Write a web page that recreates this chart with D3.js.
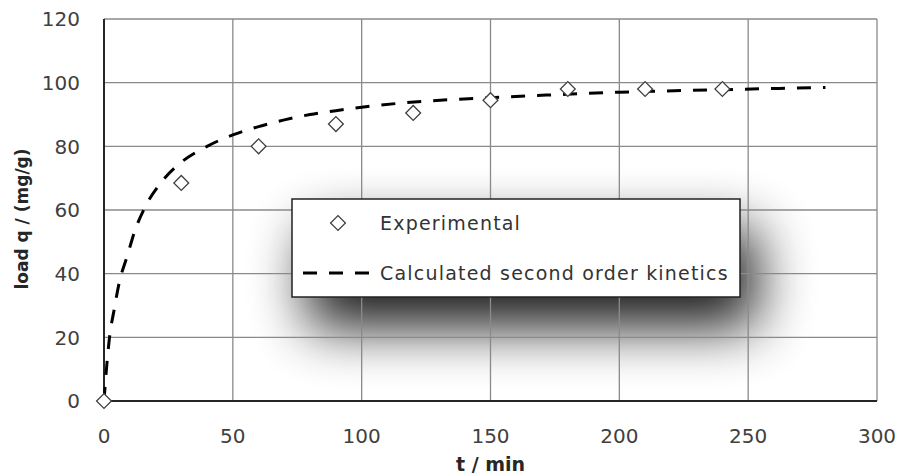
<!DOCTYPE html>
<html>
<head>
<meta charset="utf-8">
<script src="https://cdn.jsdelivr.net/npm/d3@7"></script>
<style>
  body { margin: 0; background: #fff; }
  svg { display: block; font-family: "DejaVu Sans", sans-serif; }
</style>
</head>
<body>
<div id="chart"></div>
<script>
// measured points (t in min, q in mg/g)
const expTime = [0, 30, 60, 90, 120, 150, 180, 210, 240];
const expLoad = [0, 68.5, 80, 87, 90.5, 94.5, 98, 98, 98];

// fitted second order curve
const calcTime = [0, 1, 2, 4, 6, 9, 12, 16, 22, 30, 40, 50, 60, 70, 80, 90, 100, 125, 150, 175, 200, 240, 280];
const calcLoad = [0, 10.5, 19, 29, 37.5, 45.5, 53.5, 61, 68.5, 75, 80, 83.6, 86.2, 88.3, 90, 91.2, 92.3, 94.2, 95.3, 96.2, 97, 97.8, 98.5];

const xTicks = [0, 50, 100, 150, 200, 250, 300];
const yTicks = [0, 20, 40, 60, 80, 100, 120];
const legendLabels = ["Experimental", "Calculated second order kinetics"];

const width = 901, height = 474;
const margin = { top: 19, right: 24, bottom: 73, left: 104 };

const svg = d3.select("#chart").append("svg")
    .attr("width", width)
    .attr("height", height);

const x = d3.scaleLinear().domain([0, 300]).range([margin.left, width - margin.right]);
const y = d3.scaleLinear().domain([0, 120]).range([height - margin.bottom, margin.top]);

// shadow filter for the legend
const defs = svg.append("defs");
defs.append("filter")
    .attr("id", "blur")
    .attr("x", "-100%").attr("y", "-100%")
    .attr("width", "300%").attr("height", "300%")
  .append("feGaussianBlur")
    .attr("stdDeviation", 28);

// legend box position
const lg = { x: 292, y: 199, w: 448, h: 98 };

svg.append("rect")
    .attr("x", lg.x + 16)
    .attr("y", lg.y + 30)
    .attr("width", lg.w)
    .attr("height", lg.h)
    .attr("fill", "#000")
    .attr("opacity", 0.9)
    .attr("filter", "url(#blur)");

// gridlines
svg.append("g").selectAll("line")
    .data(xTicks.slice(1))
    .join("line")
    .attr("x1", d => x(d)).attr("x2", d => x(d))
    .attr("y1", y(0)).attr("y2", y(120))
    .attr("stroke", "#8a8a8a")
    .attr("stroke-width", 1.3);

svg.append("g").selectAll("line")
    .data(yTicks.slice(1))
    .join("line")
    .attr("x1", x(0)).attr("x2", x(300))
    .attr("y1", d => y(d)).attr("y2", d => y(d))
    .attr("stroke", "#8a8a8a")
    .attr("stroke-width", 1.3);

// axes lines
svg.append("line")
    .attr("x1", x(0)).attr("x2", x(0))
    .attr("y1", y(0)).attr("y2", y(120))
    .attr("stroke", "#262626").attr("stroke-width", 2);
svg.append("line")
    .attr("x1", x(0)).attr("x2", x(300))
    .attr("y1", y(0)).attr("y2", y(0))
    .attr("stroke", "#262626").attr("stroke-width", 2);

// tick labels
svg.append("g").selectAll("text")
    .data(xTicks)
    .join("text")
    .attr("x", d => x(d))
    .attr("y", 443)
    .attr("text-anchor", "middle")
    .attr("font-size", "20px")
    .attr("fill", "#404040")
    .text(d => d);

svg.append("g").selectAll("text")
    .data(yTicks)
    .join("text")
    .attr("x", 80)
    .attr("y", d => y(d))
    .attr("dy", "0.36em")
    .attr("text-anchor", "end")
    .attr("font-size", "20px")
    .attr("fill", "#404040")
    .text(d => d);

// axis titles
svg.append("text")
    .attr("x", x(150))
    .attr("y", 471)
    .attr("text-anchor", "middle")
    .attr("font-size", "19px")
    .attr("font-weight", "bold")
    .attr("fill", "#262626")
    .text("t / min");

svg.append("text")
    .attr("transform", "translate(28,219) rotate(-90)")
    .attr("text-anchor", "middle")
    .attr("font-size", "17px")
    .attr("font-weight", "bold")
    .attr("fill", "#262626")
    .text("load q / (mg/g)");

// calculated curve
const calc = calcTime.map((t, i) => ({ t, q: calcLoad[i] }));
const line = d3.line()
    .x(d => x(d.t))
    .y(d => y(d.q))
    .curve(d3.curveMonotoneX);

svg.append("path")
    .datum(calc)
    .attr("d", line)
    .attr("fill", "none")
    .attr("stroke", "#000")
    .attr("stroke-width", 3)
    .attr("stroke-dasharray", "14,12");

// experimental points
const exp = expTime.map((t, i) => ({ t, q: expLoad[i] }));
const diamond = d3.symbol().type(d3.symbolSquare).size(110);

svg.append("g").selectAll("path")
    .data(exp)
    .join("path")
    .attr("d", diamond)
    .attr("transform", d => `translate(${x(d.t)},${y(d.q)}) rotate(45)`)
    .attr("fill", "#fff")
    .attr("stroke", "#404040")
    .attr("stroke-width", 1.3);

// legend
const legend = svg.append("g");
legend.append("rect")
    .attr("x", lg.x).attr("y", lg.y)
    .attr("width", lg.w).attr("height", lg.h)
    .attr("fill", "#fff")
    .attr("stroke", "#222")
    .attr("stroke-width", 1.5);

legend.append("path")
    .attr("d", diamond)
    .attr("transform", `translate(338,223) rotate(45)`)
    .attr("fill", "#fff")
    .attr("stroke", "#404040")
    .attr("stroke-width", 1.3);

legend.append("line")
    .attr("x1", 303).attr("x2", 374)
    .attr("y1", 273).attr("y2", 273)
    .attr("stroke", "#000")
    .attr("stroke-width", 3)
    .attr("stroke-dasharray", "14,12");

legend.selectAll("text.lbl")
    .data(legendLabels)
    .join("text")
    .attr("class", "lbl")
    .attr("x", 380)
    .attr("y", (d, i) => 223 + i * 50)
    .attr("dy", "0.36em")
    .attr("font-size", "19px")
    .attr("letter-spacing", "1.2px")
    .attr("fill", "#333")
    .text(d => d);
</script>
</body>
</html>
